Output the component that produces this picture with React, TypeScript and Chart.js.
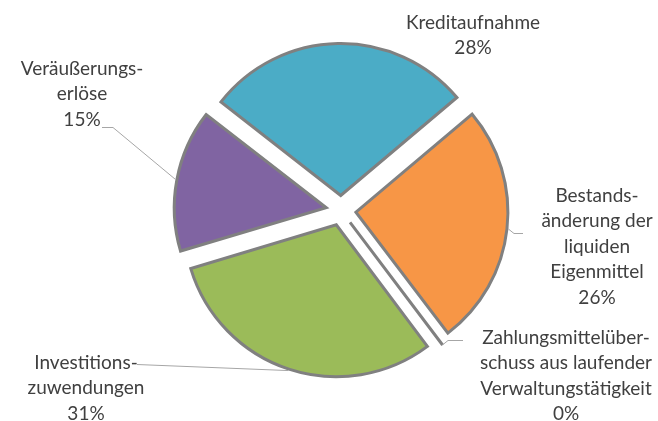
import { useEffect, useRef } from 'react';
import { Chart, registerables, ArcElement, PieController } from 'chart.js';

// Arc that is moved out by its offset without also growing in radius
class ExplodedArc extends ArcElement {
  static id = 'explodedArc';
  draw(ctx: CanvasRenderingContext2D) {
    const self: any = this;
    const shift = (self.options.offset || 0) / 4;
    const fix = 1 - Math.sin(Math.min(Math.PI, self.circumference || 0));
    const saved = self.outerRadius;
    self.outerRadius = saved - shift * fix;
    super.draw(ctx);
    self.outerRadius = saved;
  }
}
class ExplodedPieController extends PieController {
  static id = 'explodedPie';
  static defaults = { dataElementType: 'explodedArc' };
}

Chart.register(...registerables, ExplodedArc, ExplodedPieController);

// ---- data ----
const categories: string[][] = [
  ['Kreditaufnahme'],
  ['Bestands-', 'änderung der', 'liquiden', 'Eigenmittel'],
  ['Zahlungsmittelüber-', 'schuss aus laufender', 'Verwaltungstätigkeit'],
  ['Investitions-', 'zuwendungen'],
  ['Veräußerungs-', 'erlöse'],
];
const shares: number[] = [28.3, 25.8, 0.1, 30.6, 15.2];
const sliceColors: string[] = ['#4BACC6', '#F79646', '#A5A5A5', '#9BBB59', '#8064A2'];

// ---- layout / style (relative to the pie centre) ----
const EXPLODE = 15;
const BORDER = 3;
const RADIUS = 152;
const FONT = '19px Lato';
const TEXT_COLOR = '#404040';
const LEADER_COLOR = '#A6A6A6';
const LINE_H = 25.5;
const labelLayout: { dx: number; dy: number; leader: number[][] | null }[] = [
  { dx: 132, dy: -188, leader: null },
  { dx: 256, dy: -15, leader: [[173, 23], [182, 23]] },
  { dx: 225, dy: 127, leader: [[107, 130], [122, 130]] },
  { dx: -255, dy: 152, leader: [[-204, 154]] },
  { dx: -259, dy: -142, leader: [[-228, -83], [-239, -83]] },
];

const labelPlugin = {
  id: 'pieLabels',
  afterDatasetsDraw(chart: any) {
    const meta = chart.getDatasetMeta(0);
    const ctx = chart.ctx as CanvasRenderingContext2D;
    const total = shares.reduce((a, b) => a + b, 0);
    ctx.save();
    meta.data.forEach((arc: any, i: number) => {
      const { x, y, startAngle, endAngle, outerRadius } = arc;
      const cfg = labelLayout[i];
      const mid = (startAngle + endAngle) / 2;
      const shift = (arc.options.offset || 0) / 4;
      const r = shift + outerRadius + BORDER / 2;
      const px = x + Math.cos(mid) * r;
      const py = y + Math.sin(mid) * r;
      if (cfg.leader) {
        ctx.strokeStyle = LEADER_COLOR;
        ctx.lineWidth = 1;
        ctx.beginPath();
        ctx.moveTo(px, py);
        cfg.leader.forEach(([lx, ly]) => ctx.lineTo(x + lx, y + ly));
        ctx.stroke();
      }
      const lines = [...categories[i], Math.round((shares[i] / total) * 100) + '%'];
      ctx.fillStyle = TEXT_COLOR;
      ctx.font = FONT;
      ctx.textAlign = 'center';
      ctx.textBaseline = 'middle';
      lines.forEach((t, k) => ctx.fillText(t, x + cfg.dx, y + cfg.dy + k * LINE_H));
    });
    ctx.restore();
  },
};

export default function App() {
  const ref = useRef<HTMLCanvasElement>(null);
  useEffect(() => {
    if (!ref.current) return;
    const chart = new Chart(ref.current, {
      type: 'explodedPie' as any,
      data: {
        labels: categories.map((c) => c.join(' ')),
        datasets: [
          {
            data: shares,
            backgroundColor: sliceColors,
            borderColor: '#808080',
            borderWidth: BORDER,
            borderJoinStyle: 'miter',
            offset: EXPLODE * 4,
          } as any,
        ],
      },
      options: {
        animation: false,
        responsive: true,
        maintainAspectRatio: false,
        rotation: -52,
        radius: RADIUS,
        layout: { padding: { left: 24, right: 0, top: 0, bottom: 0 } },
        plugins: { legend: { display: false }, tooltip: { enabled: false } },
        events: [],
      } as any,
      plugins: [labelPlugin],
    });
    return () => chart.destroy();
  }, []);
  return (
    <div style={{ position: 'fixed', left: 0, top: 0, width: 658, height: 421, background: '#fff' }}>
      <canvas ref={ref} />
    </div>
  );
}
